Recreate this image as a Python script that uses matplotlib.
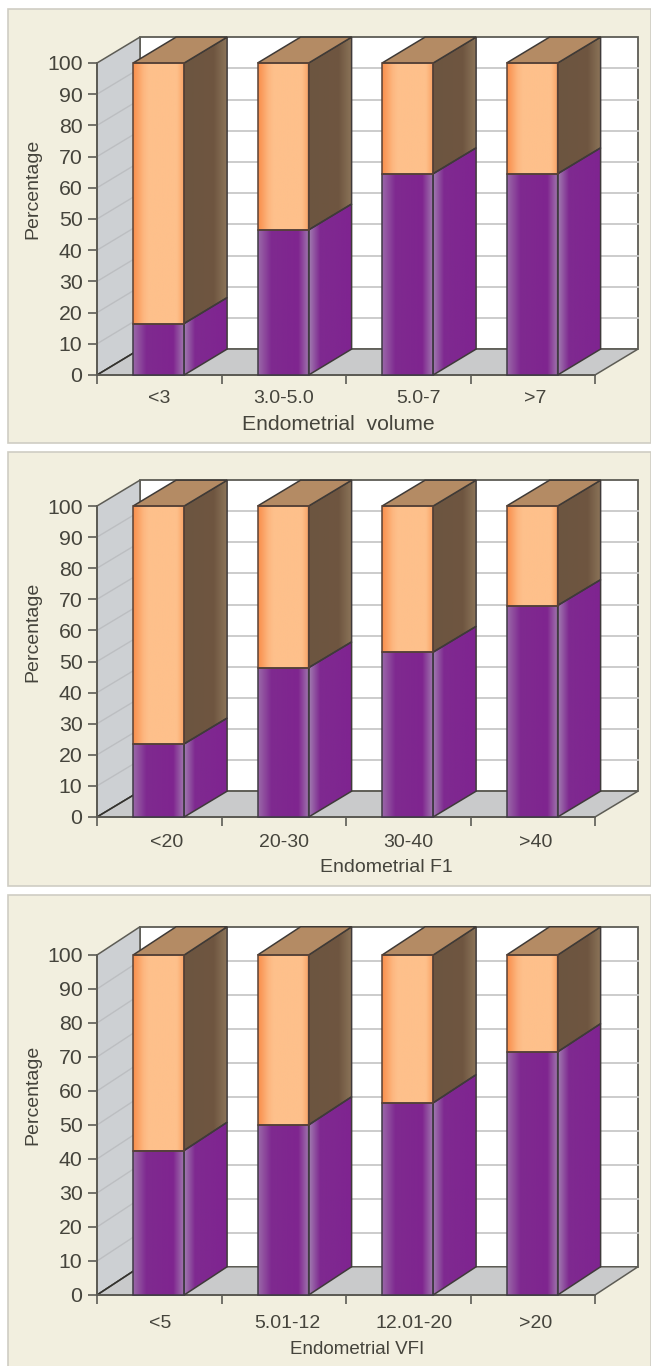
import numpy as np
import matplotlib
matplotlib.use('Agg')
import matplotlib.pyplot as plt
from matplotlib.colors import LinearSegmentedColormap
from matplotlib.patches import Polygon, Rectangle

plt.rcParams['font.family'] = ['Liberation Sans', 'DejaVu Sans']

# --- Data ---
labels_volume = ['<3', '3.0-5.0', '5.0-7', '>7']
labels_fi = ['<20', '20-30', '30-40', '>40']
labels_vfi = ['<5', '5.01-12', '12.01-20', '>20']
lower_volume = [16.5, 46.5, 64.5, 64.5]
lower_fi = [23.5, 48, 53, 68]
lower_vfi = [42.5, 50, 56.5, 71.5]
total = [100, 100, 100, 100]
yticks = list(range(0, 101, 10))

W, H = 651, 1366
TEXT = '#45443c'
AXIS = '#5d5c55'
depth_x = 0.345
depth_y = 8.3
bar_left = 0.29
bar_width = 0.41

front_orange = LinearSegmentedColormap.from_list('fo', [(0, '#f98f4c'), (0.2, '#fdb780'), (0.3, '#fec08b'), (0.85, '#fec08b'), (1, '#f9a062')])
side_orange = LinearSegmentedColormap.from_list('so', [(0, '#6c5540'), (0.7, '#6f5640'), (1, '#8b7459')])
front_purple = LinearSegmentedColormap.from_list('fp', [(0, '#9a68a8'), (0.25, '#7f2a90'), (0.78, '#7f258f'), (1, '#a27cb0')])
side_purple = LinearSegmentedColormap.from_list('sp', [(0, '#a07ab0'), (0.25, '#7f2a90'), (1, '#7f2490')])


def px_axes(fig, left, right, top, bottom):
    return fig.add_axes([left / W, 1 - bottom / H, (right - left) / W, (bottom - top) / H])


def shade(ax, cmap, x0, x1, y0, y1, clip=None):
    grad = np.linspace(0, 1, 64).reshape(1, -1)
    im = ax.imshow(grad, cmap=cmap, extent=[x0, x1, y0, y1], aspect='auto', zorder=4, clip_on=False)
    if clip is not None:
        im.set_clip_on(True)
        im.set_clip_box(ax.figure.bbox)
        im.set_clip_path(clip)


def draw_bar(ax, pos, low, high):
    x0 = pos + bar_left
    x1 = x0 + bar_width
    # front faces
    shade(ax, front_purple, x0, x1, 0, low)
    shade(ax, front_orange, x0, x1, low, high)
    # side faces
    parts = [(0, low, side_purple), (low, high, side_orange)]
    for y0, y1, cmap in parts:
        pts = [(x1, y0), (x1 + depth_x, y0 + depth_y), (x1 + depth_x, y1 + depth_y), (x1, y1)]
        poly = Polygon(pts, closed=True, fc='none', ec='none', zorder=4, clip_on=False)
        ax.add_patch(poly)
        shade(ax, cmap, x1, x1 + depth_x, y0, y1 + depth_y, clip=poly)
        ax.add_patch(Polygon(pts, closed=True, fc='none', ec='#3f3a3a', lw=1.1, zorder=5, clip_on=False))
    # top
    top = [(x0, high), (x1, high), (x1 + depth_x, high + depth_y), (x0 + depth_x, high + depth_y)]
    ax.add_patch(Polygon(top, closed=True, fc='#b48b64', ec='#3f3a36', lw=1.1, zorder=5, clip_on=False))
    ax.add_patch(Rectangle((x0, 0), bar_width, low, fc='none', ec='#3f3a44', lw=1.1, zorder=5, clip_on=False))
    ax.add_patch(Rectangle((x0, low), bar_width, high - low, fc='none', ec='#5a4236', lw=1.1, zorder=5, clip_on=False))


def draw_panel(fig, box, plot_box, labels, lower, label_pos, xlabel, xlabel_x, xlabel_y, xlabel_size, tick_y, ylabel_y):
    fig.add_artist(Rectangle((box[0] / W, 1 - box[3] / H), (box[2] - box[0]) / W, (box[3] - box[1]) / H,
                             transform=fig.transFigure, fc='#f2efdf', ec='#cfcdc4', lw=1.2, zorder=-1))
    ax = px_axes(fig, *plot_box)
    ax.patch.set_alpha(0)
    for s in ax.spines.values():
        s.set_visible(False)

    # back wall, left wall, floor
    ax.add_patch(Rectangle((depth_x, depth_y), 4, 100, fc='white', ec=AXIS, lw=1.3, zorder=1, clip_on=False))
    ax.add_patch(Polygon([(0, 0), (depth_x, depth_y), (depth_x, 100 + depth_y), (0, 100)],
                         closed=True, fc='#cdd0d3', ec=AXIS, lw=1.1, zorder=1, clip_on=False))
    ax.add_patch(Polygon([(0, 0), (4, 0), (4 + depth_x, depth_y), (depth_x, depth_y)],
                         closed=True, fc='#c9cacb', ec=AXIS, lw=1.1, zorder=1, clip_on=False))
    for v in yticks[1:-1]:
        ax.plot([depth_x, 4 + depth_x], [v + depth_y, v + depth_y], color='#c8c8c8', lw=1.3, zorder=2, clip_on=False)
        ax.plot([0, depth_x], [v, v + depth_y], color='#bcbec1', lw=1.0, zorder=2, clip_on=False)
    ax.plot([0, depth_x], [0, depth_y], color='#33322e', lw=1.1, zorder=2, clip_on=False)

    for i, (low, high) in enumerate(zip(lower, total)):
        draw_bar(ax, i, low, high)

    ax.plot([0, 0], [0, 100], color=AXIS, lw=1.4, zorder=6, clip_on=False)
    ax.plot([0, 4], [0, 0], color=AXIS, lw=1.4, zorder=3, clip_on=False)

    ax.set_xlim(0, 4)
    ax.set_ylim(0, 100)
    ax.set_yticks(yticks)
    ax.set_xticks(range(5))
    ax.set_xticklabels([])
    ax.set_xticks(label_pos, labels, minor=True)
    ax.tick_params(axis='x', which='major', length=6.5, width=1.2, color=AXIS)
    ax.tick_params(axis='x', which='minor', length=0, labelsize=14, labelcolor=TEXT, pad=(tick_y - 6) * 0.72)
    ax.tick_params(axis='y', length=6.5, width=1.2, color=AXIS, labelsize=15.3, labelcolor=TEXT, pad=4)

    fig.text(xlabel_x / W, 1 - xlabel_y / H, xlabel, fontsize=xlabel_size, color=TEXT, ha='center', va='center')
    fig.text(33 / W, 1 - ylabel_y / H, 'Percentage', fontsize=14, color=TEXT, ha='center', va='center', rotation=90)


fig = plt.figure(figsize=(W / 100, H / 100), dpi=100, facecolor='white')

draw_panel(fig, (8, 9, 651, 443), (97, 595, 63, 375), labels_volume, lower_volume,
           [0.5, 1.5, 2.58, 3.52], 'Endometrial  volume', 338, 424, 15.2, 21, 189)
draw_panel(fig, (8, 452, 651, 886), (97, 595, 506, 817), labels_fi, lower_fi,
           [0.56, 1.5, 2.5, 3.52], 'Endometrial F1', 386, 868, 14, 23, 632)
draw_panel(fig, (8, 895, 651, 1375), (97, 595, 955, 1295), labels_vfi, lower_vfi,
           [0.51, 1.53, 2.55, 3.52], 'Endometrial VFI', 357, 1349, 13.5, 26, 1095)

fig.savefig('out.png', dpi=100)
plt.close(fig)
